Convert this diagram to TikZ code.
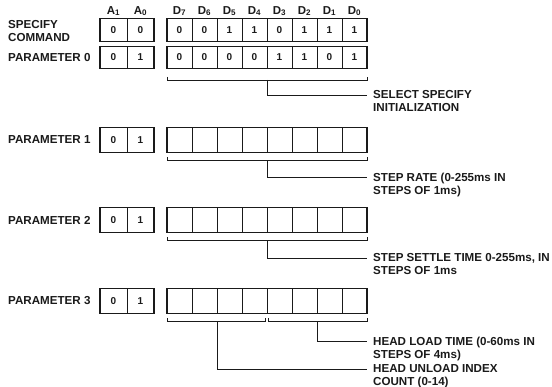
\documentclass[tikz,border=0pt]{standalone}
\usepackage{fontspec}
\setmainfont{Liberation Sans}
\usepackage{tikz}
\usepackage{xcolor}
\usetikzlibrary{calc}
\definecolor{darktext}{HTML}{1A1A1A}

\begin{document}
\begin{tikzpicture}[x=1pt, y=-1pt,
            bit/.style={draw=darktext, line width=0.7pt, outer sep=0pt, inner sep=0pt, font=\fontsize{10}{12}\selectfont\bfseries, text=darktext},
            frame/.style={draw=darktext, line width=1.5pt},
            lbl/.style={font=\fontsize{11.6}{13.2}\selectfont\bfseries, text=darktext, align=left, inner sep=0pt},
            hdr/.style={font=\fontsize{11.5}{13}\selectfont\bfseries, text=darktext},
            lead/.style={draw=darktext, line width=0.8pt}]
            \useasboundingbox (0,0) rectangle (552,387);
            \node[hdr] (h-a1) at (113.5,11) {A\textsubscript{1}};
            \node[hdr] (h-a0) at (140.5,11) {A\textsubscript{0}};
            \foreach \k in {0,...,7} {
                \pgfmathtruncatemacro\n{7-\k}
                \node[hdr] (h-d\n) at ({179.5+25*\k},11) {D\textsubscript{\n}};
            }
            \foreach \r/\y/\h/\aone/\azero/\bits in {r0/30/23/0/0/{0,0,1,1,0,1,1,1}, r1/57.5/22/0/1/{0,0,0,0,1,1,0,1}} {
                \node[bit, minimum width=27pt, minimum height=\h pt] (\r-a1) at (113.5,\y) {\aone};
                \node[bit, minimum width=27pt, minimum height=\h pt] (\r-a0) at (140.5,\y) {\azero};
                \foreach \b [count=\k from 0] in \bits {
                    \pgfmathtruncatemacro\n{7-\k}
                    \node[bit, minimum width=25pt, minimum height=\h pt] (\r-d\n) at ({179.5+25*\k},\y) {\b};
                }
            }
            \foreach \r/\y in {r2/140, r3/220, r4/301} {
                \node[bit, minimum width=27pt, minimum height=25pt] (\r-a1) at (113.5,\y) {0};
                \node[bit, minimum width=27pt, minimum height=25pt] (\r-a0) at (140.5,\y) {1};
                \foreach \k in {0,...,7} {
                    \pgfmathtruncatemacro\n{7-\k}
                    \node[bit, minimum width=25pt, minimum height=25pt] (\r-d\n) at ({179.5+25*\k},\y) {};
                }
            }
            \foreach \r in {r0,r1,r2,r3,r4} {
                \draw[frame] (\r-a1.north west) rectangle (\r-a0.south east);
                \draw[frame] (\r-d7.north west) rectangle (\r-d0.south east);
            }
            \node[lbl, anchor=west] (n-r0) at (8,31) {SPECIFY\\COMMAND};
            \node[lbl, anchor=west] (n-r1) at (8,57.5) {PARAMETER 0};
            \node[lbl, anchor=west] (n-r2) at (8,140) {PARAMETER 1};
            \node[lbl, anchor=west] (n-r3) at (8,220) {PARAMETER 2};
            \node[lbl, anchor=west] (n-r4) at (8,301) {PARAMETER 3};
            \foreach \r/\off in {r1/11.5, r2/8, r3/8} {
                \draw[lead] ([yshift=-\off pt+3pt]\r-d7.south west) -- ([yshift=-\off pt]\r-d7.south west)
                    -- ([yshift=-\off pt]\r-d0.south east) -- ([yshift=-\off pt+3pt]\r-d0.south east);
                \coordinate (\r-mid) at ([yshift=-\off pt]\r-d4.south east);
            }
            \draw[lead] ([yshift=-5pt]r4-d7.south west) -- ([yshift=-8pt]r4-d7.south west)
                -- ([xshift=-1.5pt, yshift=-8pt]r4-d4.south east) -- ([xshift=-1.5pt, yshift=-5pt]r4-d4.south east);
            \draw[lead] ([xshift=1.5pt, yshift=-5pt]r4-d3.south west) -- ([xshift=1.5pt, yshift=-8pt]r4-d3.south west)
                -- ([yshift=-8pt]r4-d0.south east) -- ([yshift=-5pt]r4-d0.south east);
            \coordinate (r4-lo) at ([yshift=-8pt]r4-d6.south east);
            \coordinate (r4-hi) at ([yshift=-8pt]r4-d2.south east);
            \node[lbl, anchor=north west] (t1) at (373,90.5) {SELECT SPECIFY\\INITIALIZATION};
            \node[lbl, anchor=north west] (t2) at (373,172.5) {STEP RATE (0-255ms IN\\STEPS OF 1ms)};
            \node[lbl, anchor=north west] (t3) at (373,253.5) {STEP SETTLE TIME 0-255ms, IN\\STEPS OF 1ms};
            \node[lbl, anchor=north west] (t4) at (373,336.5) {HEAD LOAD TIME (0-60ms IN\\STEPS OF 4ms)};
            \node[lbl, anchor=north west] (t5) at (373,364.5) {HEAD UNLOAD INDEX\\COUNT (0-14)};
            \draw[lead] (r1-mid) |- ([xshift=-6pt, yshift=-4.5pt]t1.north west);
            \draw[lead] (r2-mid) |- ([xshift=-6pt, yshift=-4.5pt]t2.north west);
            \draw[lead] (r3-mid) |- ([xshift=-6pt, yshift=-4.5pt]t3.north west);
            \draw[lead] (r4-hi) |- ([xshift=-6pt, yshift=-4.5pt]t4.north west);
            \draw[lead] (r4-lo) |- ([xshift=-6pt, yshift=-4.5pt]t5.north west);
        \end{tikzpicture}
\end{document}
